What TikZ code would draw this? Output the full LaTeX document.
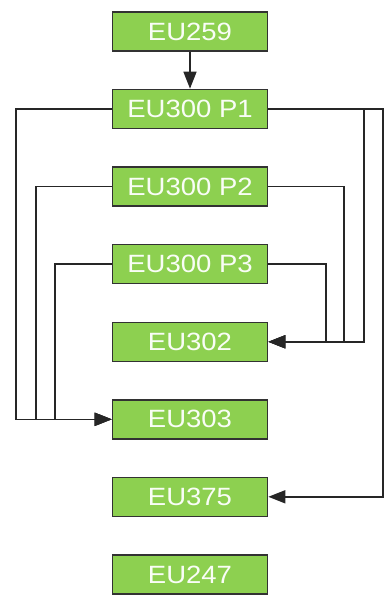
\documentclass[tikz,border=0pt]{standalone}
\usepackage{fontspec}
\setmainfont{Liberation Sans}[FakeStretch=1.1]
\usetikzlibrary{arrows.meta,positioning}
\definecolor{boxgreen}{RGB}{141,208,80}
\definecolor{boxedge}{RGB}{50,50,50}

\begin{document}
\begin{tikzpicture}
[x=1pt,y=-1pt,
unit/.style={
	rectangle,
        draw=boxedge,
        fill=boxgreen,
        line width=1.6pt,
        minimum width=155pt,
        minimum height=39pt,
        text=white!95!boxgreen,
        font=\fontsize{25}{28}\selectfont,
        inner sep=0pt,
    },
link/.style={
        line width=1.5pt,
        draw=black!85,
    },
flow/.style={
        link,
        -{Triangle[length=17pt,width=13pt]},
    },]
\useasboundingbox (0,0) rectangle (385,599);

% draw the boxes
\node[unit] (eu259) at (190,31.5) {EU259};
\node[unit] (p1) at (190,109) {EU300 P1};
\node[unit] (p2) at (190,186.7) {EU300 P2};
\node[unit] (p3) at (190,264) {EU300 P3};
\node[unit] (eu302) at (190,341.8) {EU302};
\node[unit] (eu303) at (190,419.3) {EU303};
\node[unit] (eu375) at (190,496.8) {EU375};
\node[unit] (eu247) at (190,574.4) {EU247};

% lanes
\coordinate (laneA) at (16,0);
\coordinate (laneB) at (36,0);
\coordinate (laneC) at (55,0);
\coordinate (laneD) at (326,0);
\coordinate (laneE) at (344,0);
\coordinate (laneF) at (364,0);
\coordinate (laneG) at (383,0);

%draw lines
\draw[flow] (eu259.south) -- (p1.north);
\draw[flow] (p1.west) -- (p1.west -| laneA) |- (eu303.west);
\draw[flow] (p2.west) -- (p2.west -| laneB) |- (eu303.west);
\draw[flow] (p3.west) -- (p3.west -| laneC) |- (eu303.west);
\draw[flow] (p1.east) -- (p1.east -| laneF) |- (eu302.east);
\draw[flow] (p1.east) -- (p1.east -| laneG) |- (eu375.east);
\draw[flow] (p2.east) -- (p2.east -| laneE) |- (eu302.east);
\draw[flow] (p3.east) -- (p3.east -| laneD) |- (eu302.east);
\end{tikzpicture}
\end{document}
